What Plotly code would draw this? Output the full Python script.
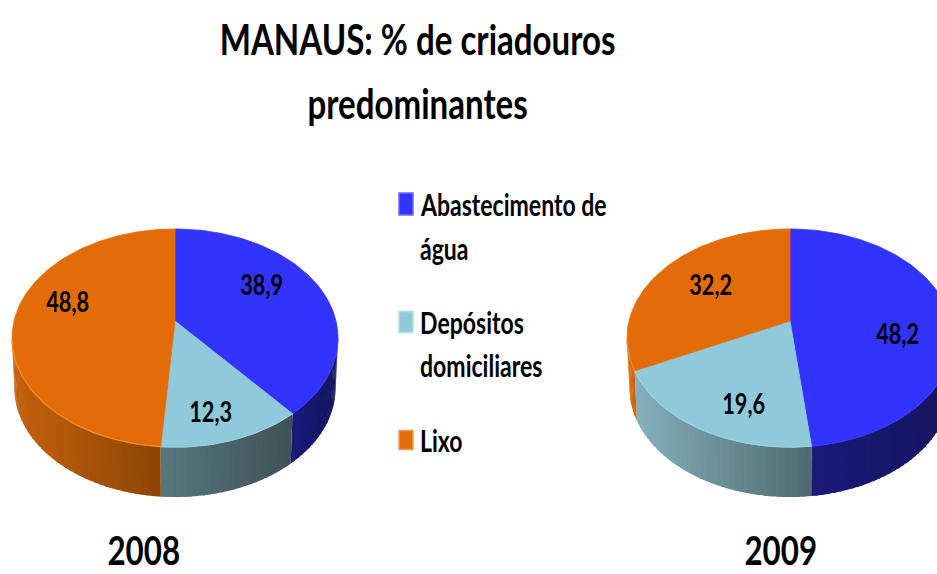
import math
import plotly.graph_objects as go

# ---- data ----
categories = ["Abastecimento de água", "Depósitos domiciliares", "Lixo"]
legend_labels = [["Abastecimento de", "água"], ["Depósitos", "domiciliares"], ["Lixo"]]
values_2008 = [38.9, 12.3, 48.8]
values_2009 = [48.2, 19.6, 32.2]
value_text_2008 = ["38,9", "12,3", "48,8"]
value_text_2009 = ["48,2", "19,6", "32,2"]
title_lines = ["MANAUS: % de criadouros", "predominantes"]
year_labels = ["2008", "2009"]

# ---- styling / geometry ----
FONT = "Lato"
top_colors = ["#3333ff", "#8fc9da", "#e36c09"]
rim_colors = ["#3a3aff", "#9ad2e2", "#f58a2a"]
swatch_edges = ["#6a6aff", "#b5dde9", "#f09a50"]
walls_2008 = [("#1a1a7c", "#14145c"), ("#56777f", "#3e5256"), ("#c4610d", "#8c4505")]
walls_2009 = [("#1a1a7c", "#14145c"), ("#86b0be", "#4e696e"), ("#e06c0a", "#c9620c")]
P, A, B, DEPTH = 0.156, 161, 106.4, 50
CY = 321
BOTTOM_SHRINK = 0.985


def project(cx, a, r=1.0):
    u, v = r * math.sin(a), r * math.cos(a)
    d = 1 + P * v
    return cx + A * u / d, CY - B * v / d


def hex2rgb(h):
    return [int(h[i:i + 2], 16) for i in (1, 3, 5)]


def mix(c0, c1, t):
    a, b = hex2rgb(c0), hex2rgb(c1)
    return "rgb(%d,%d,%d)" % tuple(round(a[i] + (b[i] - a[i]) * t) for i in range(3))


def poly(xs, ys, color, width=0.8):
    return go.Scatter(x=xs, y=ys, mode="lines", fill="toself", fillcolor=color,
                      line=dict(color=color, width=width), hoverinfo="skip", showlegend=False)


def add_pie(fig, cx, values, walls):
    total = sum(values)
    edges = [0.0]
    for v in values:
        edges.append(edges[-1] + v / total * 2 * math.pi)
    vis0 = math.acos(-P)
    vis1 = 2 * math.pi - vis0
    # side wall, drawn as overlapping shaded strips
    for i in range(3):
        a0, a1 = max(edges[i], vis0), min(edges[i + 1], vis1)
        if a1 <= a0:
            continue
        n = max(4, int((a1 - a0) * 30))
        ang = [a0 + (a1 - a0) * k / (n * 3) for k in range(n * 3 + 1)]
        xs = [project(cx, a)[0] for a in ang]
        lo, hi = min(xs), max(xs)
        for k in range(n):
            seg = ang[k * 3:(k + 1) * 3 + 1 + (1 if k < n - 1 else 0)]
            pts = [project(cx, a) for a in seg]
            t = (sum(p[0] for p in pts) / len(pts) - lo) / (hi - lo)
            fig.add_trace(poly([p[0] for p in pts] + [cx + (p[0] - cx) * BOTTOM_SHRINK for p in reversed(pts)],
                               [p[1] for p in pts] + [p[1] + DEPTH for p in reversed(pts)],
                               mix(walls[i][0], walls[i][1], t), 0))
    # top surface
    for i in range(3):
        a0, a1 = edges[i], edges[i + 1]
        n = max(8, int((a1 - a0) * 40))
        pts = [project(cx, a0 + (a1 - a0) * k / n) for k in range(n + 1)]
        fig.add_trace(poly([cx] + [p[0] for p in pts] + [cx],
                           [CY] + [p[1] for p in pts] + [CY], top_colors[i]))
        front = [p for k, p in enumerate(pts)
                 if math.cos(a0 + (a1 - a0) * k / n) <= -P]
        if len(front) > 1:
            fig.add_trace(go.Scatter(x=[p[0] for p in front], y=[p[1] for p in front],
                                     mode="lines", line=dict(color=rim_colors[i], width=1.2),
                                     hoverinfo="skip", showlegend=False))


fig = go.Figure()
add_pie(fig, 175, values_2008, walls_2008)
add_pie(fig, 790, values_2009, walls_2009)


def label(x, y, text, size):
    fig.add_annotation(x=x, y=y, text="<b>%s</b>" % text, showarrow=False, xanchor="center",
                       yanchor="middle", font=dict(family=FONT, size=size, color="#000000"))


# value labels
for (x, y), t in zip([(261, 284), (210, 411), (67, 301)], value_text_2008):
    label(x, y, t, 25)
for (x, y), t in zip([(897, 333), (743, 403), (710, 284)], value_text_2009):
    label(x, y, t, 25)

# title and year captions
label(417, 38, title_lines[0], 38)
label(417, 102, title_lines[1], 38)
label(144, 549, year_labels[0], 36)
label(781, 549, year_labels[1], 36)

# legend block
legend_rows = [(205, 249), (323, 366), (441,)]
swatch_half = [11, 10.5, 9.5]
for c, e, rows, lines, h in zip(top_colors, swatch_edges, legend_rows, legend_labels, swatch_half):
    y0 = rows[0]
    fig.add_shape(type="rect", x0=399, x1=413, y0=y0 - h - 1, y1=y0 + h - 1, xref="x", yref="y",
                  fillcolor=c, line=dict(color=e, width=1.5), layer="above")
    for y, t in zip(rows, lines):
        fig.add_annotation(x=417.5, y=y, text="<b>%s</b>" % t, showarrow=False, xanchor="left",
                           yanchor="middle", font=dict(family=FONT, size=26.5, color="#000000"))

fig.update_layout(
    width=937, height=574, autosize=False,
    margin=dict(l=0, r=0, t=0, b=0),
    paper_bgcolor="#ffffff", plot_bgcolor="#ffffff",
    showlegend=False,
    xaxis=dict(range=[0, 937], visible=False, fixedrange=True),
    yaxis=dict(range=[574, 0], visible=False, fixedrange=True),
)

# The reference's text is condensed and stretched vertically; apply the same look.
POST = """
document.body.style.margin='0';document.body.style.overflow='hidden';
var gd=document.getElementById('{plot_id}');
gd.querySelectorAll('g.annotation').forEach(function(g){
  var i=+g.getAttribute('data-index');
  var t=g.querySelector('text.annotation-text'); if(!t) return;
  var b=t.getBBox();
  var left=gd.layout.annotations[i].xanchor==='left';
  var ox=left?b.x:b.x+b.width/2, oy=b.y+b.height/2;
  var old=t.getAttribute('transform')||'';
  t.setAttribute('transform',old+' translate('+ox+','+oy+') scale(0.87,1.12) translate('+(-ox)+','+(-oy)+')');
});
"""
fig.write_html("out.html", config={"displayModeBar": False}, post_script=POST)
